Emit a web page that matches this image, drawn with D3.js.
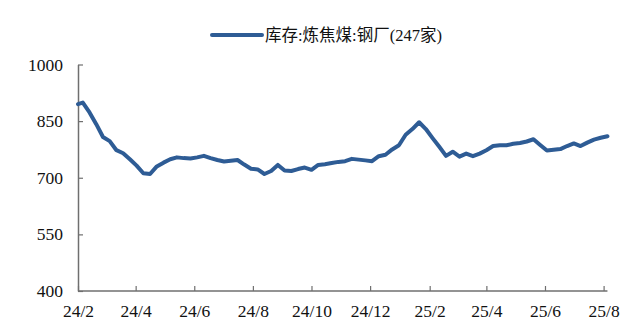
<!DOCTYPE html>
<html>
<head>
<meta charset="utf-8">
<script src="https://cdn.jsdelivr.net/npm/d3@7"></script>
<style>
  body { margin: 0; background: #fff; }
  svg text { font-family: "Liberation Serif", "Noto Sans CJK SC", serif; }
</style>
</head>
<body>
<div id="chart"></div>
<script>
// series name shown in the legend
var seriesName = "库存:炼焦煤:钢厂(247家)";

var firstDate = "2024-02-01";
var firstValue = 895;
var weeklyValues = [
    899, 873, 842, 808, 797, 773, 765, 749, 732, 712,
    710, 730, 740, 749, 754, 752, 751, 754, 758, 752,
    747, 743, 745, 747, 735, 724, 722, 710, 718, 734,
    719, 718, 723, 727, 721, 734, 736, 739, 742, 744,
    750, 748, 746, 744, 757, 761, 775, 786, 814, 829,
    847, 829, 805, 782, 758, 769, 756, 764, 757, 764,
    773, 784, 786, 786, 790, 792, 796, 802, 787, 772,
    774, 776, 784, 791, 784, 793, 801, 806, 810
];

var yTicks = [400, 550, 700, 850, 1000];
var xTickLabels = ["24/2", "24/4", "24/6", "24/8", "24/10", "24/12", "25/2", "25/4", "25/6", "25/8"];

var width = 636;
var height = 330;
var lineColor = "#2e5c95";
var axisColor = "#6f6f6f";

var parseDate = d3.timeParse("%Y-%m-%d");

// weekly dates from the library's own time intervals
var weeklyDates = d3.timeTuesday.range(parseDate("2024-02-06"), parseDate("2025-08-06"));

var data = [{ date: parseDate(firstDate), value: firstValue }];
weeklyDates.forEach(function (d, i) {
    data.push({ date: d, value: weeklyValues[i] });
});

var svg = d3.select("#chart")
    .append("svg")
    .attr("width", width)
    .attr("height", height);

// tick dates: first of every second month
var tickDates = xTickLabels.map(function (t) {
    var parts = t.split("/");
    return new Date(2000 + (+parts[0]), (+parts[1]) - 1, 1);
});

var xScale = d3.scaleTime()
    .domain([tickDates[0], tickDates[tickDates.length - 1]])
    .range([78, 603.6]);

var yScale = d3.scaleLinear()
    .domain([400, 1000])
    .range([291, 64.5]);

var xEnd = xScale(d3.timeDay.offset(tickDates[tickDates.length - 1], 4));

// x axis, ticks pointing inward
var xAxis = svg.append("g")
    .attr("transform", "translate(0," + yScale(400) + ")")
    .call(d3.axisBottom(xScale)
        .tickValues(tickDates)
        .tickFormat(function (d, i) { return xTickLabels[i]; })
        .tickSizeInner(-5)
        .tickSizeOuter(0)
        .tickPadding(14));

xAxis.select(".domain")
    .attr("d", "M" + xScale.range()[0] + ",0H" + xEnd)
    .attr("stroke", axisColor)
    .attr("stroke-width", 1.5);

// y axis, ticks pointing inward
var yAxis = svg.append("g")
    .attr("transform", "translate(" + xScale.range()[0] + ",0)")
    .call(d3.axisLeft(yScale)
        .tickValues(yTicks)
        .tickFormat(d3.format("d"))
        .tickSizeInner(-5)
        .tickSizeOuter(0)
        .tickPadding(15));

yAxis.select(".domain")
    .attr("stroke", axisColor)
    .attr("stroke-width", 1.5);

svg.selectAll(".tick line")
    .attr("stroke", axisColor)
    .attr("stroke-width", 1.2);

svg.selectAll(".tick text")
    .attr("fill", "#111")
    .style("font-size", "17.5px")
    .style("font-family", "'Liberation Serif', serif");

// the series
var line = d3.line()
    .x(function (d) { return xScale(d.date); })
    .y(function (d) { return yScale(d.value); });

svg.append("path")
    .datum(data)
    .attr("fill", "none")
    .attr("stroke", lineColor)
    .attr("stroke-width", 4)
    .attr("stroke-linejoin", "round")
    .attr("stroke-linecap", "round")
    .attr("d", line);

// legend
var legend = svg.append("g")
    .attr("transform", "translate(212,35)");

legend.append("line")
    .attr("x1", 0)
    .attr("x2", 50)
    .attr("y1", 0)
    .attr("y2", 0)
    .attr("stroke", lineColor)
    .attr("stroke-width", 4)
    .attr("stroke-linecap", "round");

legend.append("text")
    .attr("x", 53)
    .attr("y", 6)
    .attr("fill", "#111")
    .style("font-size", "16.5px")
    .text(seriesName);
</script>
</body>
</html>
